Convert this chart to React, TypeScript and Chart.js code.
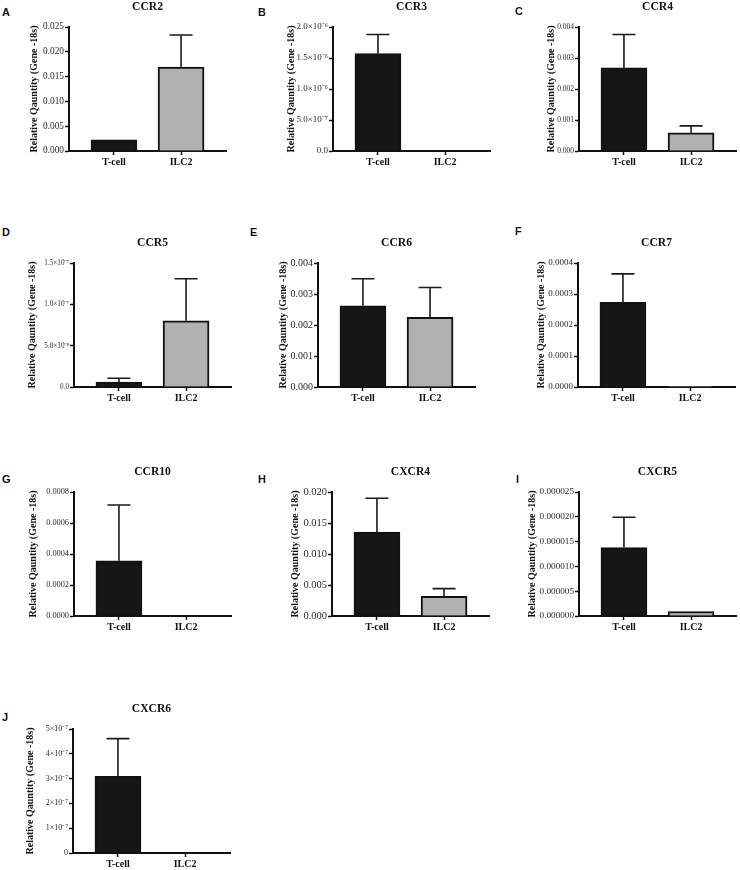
import React, { useEffect, useRef } from "react";
import { Chart, registerables } from "chart.js";

Chart.register(...registerables);

// ---------- data ----------
const categories = ["T-cell", "ILC2"];
const panelLetters = ["A", "B", "C", "D", "E", "F", "G", "H", "I", "J"];
const panelTitles = ["CCR2", "CCR3", "CCR4", "CCR5", "CCR6", "CCR7", "CCR10", "CXCR4", "CXCR5", "CXCR6"];
const tcellMeans = [0.00225, 1.57e-6, 0.00268, 6e-9, 0.00262, 0.000273, 0.000356, 0.01353, 1.38e-5, 3.09e-7];
const ilc2Means = [0.0169, 0, 0.00059, 8.0e-8, 0.00225, 0.000001, 0, 0.00318, 9e-7, 0];
const tcellErrors = [0, 0.31e-6, 0.00108, 4.5e-9, 0.00087, 0.000092, 0.00036, 0.00545, 6.1e-6, 1.52e-7];
const ilc2Errors = [0.0065, 0, 0.00022, 5.1e-8, 0.00096, 0, 0, 0.00124, 0, 0];
const yMaxes = [0.025, 2e-6, 0.004, 1.5e-7, 0.004, 0.0004, 0.0008, 0.02, 0.000025, 5e-7];
const yTickLabels = [
  ["0.000", "0.005", "0.010", "0.015", "0.020", "0.025"],
  ["0.0", "5.0×10⁻⁷", "1.0×10⁻⁶", "1.5×10⁻⁶", "2.0×10⁻⁶"],
  ["0.000", "0.001", "0.002", "0.003", "0.004"],
  ["0.0", "5.0×10⁻⁸", "1.0×10⁻⁷", "1.5×10⁻⁷"],
  ["0.000", "0.001", "0.002", "0.003", "0.004"],
  ["0.0000", "0.0001", "0.0002", "0.0003", "0.0004"],
  ["0.0000", "0.0002", "0.0004", "0.0006", "0.0008"],
  ["0.000", "0.005", "0.010", "0.015", "0.020"],
  ["0.000000", "0.000005", "0.000010", "0.000015", "0.000020", "0.000025"],
  ["0", "1×10⁻⁷", "2×10⁻⁷", "3×10⁻⁷", "4×10⁻⁷", "5×10⁻⁷"],
];
const yAxisTitle = "Relative Qauntity (Gene -18s)";

// ---------- layout ----------
const axisXs = [69, 333, 579, 74, 318, 578, 74, 332, 579, 73];
const axisTops = [27, 27, 27, 263, 263, 263, 492, 492, 492, 729];
const yTitleOffsets = [35, 42, 28, 42, 35, 37, 41, 37, 47, 43];
const yTickFontSizes = [9.3, 9, 7.5, 7.2, 10, 9, 8.3, 10.5, 9.2, 8];
const letterPos = [
  [2, 8], [258, 8], [515, 7],
  [2, 228], [250, 228], [515, 227],
  [2, 475], [258, 475], [516, 475],
  [2, 713],
];

const PLOT_W = 157;
const PLOT_H = 124;
const TOP_BOX = 28;
const X_BOX = 22;
const RIGHT_PAD = 3;
const TITLE_SIZE = 11.6;
const YTITLE_SIZE = 10;
const SERIF = "'Liberation Serif', 'Times New Roman', serif";
const SANS = "'Liberation Sans', Arial, sans-serif";

const errorBarPlugin = {
  id: "errorBars",
  afterDatasetsDraw(chart: any) {
    const ds: any = chart.data.datasets[0];
    const errs: number[] = ds.errors || [];
    const meta = chart.getDatasetMeta(0);
    const yScale = chart.scales.y;
    const ctx = chart.ctx;
    ctx.save();
    ctx.strokeStyle = "#1a1a1a";
    ctx.lineWidth = 1.6;
    meta.data.forEach((el: any, i: number) => {
      const err = errs[i];
      if (!err) return;
      const v = ds.data[i].y;
      const yTop = el.y;
      const yErr = yScale.getPixelForValue(v + err);
      ctx.beginPath();
      ctx.moveTo(el.x, yTop);
      ctx.lineTo(el.x, yErr);
      ctx.moveTo(el.x - 11.5, yErr);
      ctx.lineTo(el.x + 11.5, yErr);
      ctx.stroke();
    });
    ctx.restore();
  },
};

function Panel({ idx }: { idx: number }) {
  const ref = useRef<HTMLCanvasElement | null>(null);
  const yBox = yTitleOffsets[idx] + YTITLE_SIZE * 0.6;
  const left = axisXs[idx] - yBox;
  const top = axisTops[idx] - TOP_BOX;
  const width = Math.round(yBox + PLOT_W + RIGHT_PAD);
  const height = TOP_BOX + PLOT_H + X_BOX;

  useEffect(() => {
    if (!ref.current) return;
    const labels = yTickLabels[idx];
    const yMax = yMaxes[idx];
    const step = yMax / (labels.length - 1);
    const titleLH = TITLE_SIZE * 1.2;
    const chart = new Chart(ref.current, {
      type: "bar",
      data: {
        datasets: [
          {
            data: [
              { x: 0, y: tcellMeans[idx] },
              { x: 1, y: ilc2Means[idx] },
            ],
            errors: [tcellErrors[idx], ilc2Errors[idx]],
            backgroundColor: ["#161616", "#b1b1b1"],
            borderColor: "#111111",
            borderWidth: 2,
            barThickness: 46,
          } as any,
        ],
      },
      options: {
        animation: false,
        responsive: false,
        devicePixelRatio: 1,
        layout: { padding: { left: 0, right: RIGHT_PAD, top: 0, bottom: 0 } },
        plugins: {
          legend: { display: false },
          tooltip: { enabled: false },
          title: {
            display: true,
            text: panelTitles[idx],
            fullSize: false,
            color: "#111",
            font: { family: SERIF, size: TITLE_SIZE, weight: "bold" },
            padding: { top: 8 - titleLH / 2, bottom: TOP_BOX - titleLH - (8 - titleLH / 2) },
          },
        },
        scales: {
          x: {
            type: "linear",
            min: -0.67,
            max: 1.67,
            offset: false,
            afterBuildTicks: (s: any) => {
              s.ticks = categories.map((_, i) => ({ value: i }));
            },
            afterFit: (s: any) => {
              s.height = X_BOX;
            },
            ticks: {
              callback: (v: any) => categories[v as number] ?? "",
              color: "#111",
              font: { family: SERIF, size: 10, weight: "bold" },
              padding: 1.5,
              maxRotation: 0,
              autoSkip: false,
            },
            grid: {
              display: true,
              offset: false,
              drawOnChartArea: false,
              drawTicks: true,
              tickLength: 4,
              tickColor: "#111",
              tickWidth: 1.5,
            },
            border: { display: true, color: "#111", width: 2 },
          } as any,
          y: {
            type: "linear",
            min: 0,
            max: yMax,
            afterBuildTicks: (s: any) => {
              s.ticks = labels.map((_, i) => ({ value: i * step }));
            },
            afterFit: (s: any) => {
              s.width = yBox;
            },
            ticks: {
              callback: (_v: any, i: number) => labels[i],
              color: "#2a2a2a",
              font: { family: SERIF, size: yTickFontSizes[idx] },
              padding: 1,
              autoSkip: false,
            },
            grid: {
              display: true,
              drawOnChartArea: false,
              drawTicks: true,
              tickLength: 4,
              tickColor: "#111",
              tickWidth: 1.5,
            },
            border: { display: true, color: "#111", width: 2 },
            title: {
              display: true,
              text: yAxisTitle,
              color: "#111",
              font: { family: SERIF, size: YTITLE_SIZE, weight: "bold" },
              padding: 0,
            },
          } as any,
        },
      },
      plugins: [errorBarPlugin],
    });
    return () => chart.destroy();
  }, [idx]);

  return (
    <canvas
      ref={ref}
      width={width}
      height={height}
      style={{ position: "absolute", left, top, width, height }}
    />
  );
}

export default function App() {
  return (
    <div
      style={{
        position: "absolute",
        left: 0,
        top: 0,
        width: 740,
        height: 870,
        background: "#ffffff",
        overflow: "hidden",
      }}
    >
      {panelTitles.map((_, i) => (
        <Panel key={i} idx={i} />
      ))}
      {panelLetters.map((l, i) => (
        <div
          key={l}
          style={{
            position: "absolute",
            left: letterPos[i][0],
            top: letterPos[i][1] - 1.4,
            fontFamily: SANS,
            fontWeight: "bold",
            fontSize: 11,
            lineHeight: "11px",
            color: "#111",
          }}
        >
          {l}
        </div>
      ))}
    </div>
  );
}
